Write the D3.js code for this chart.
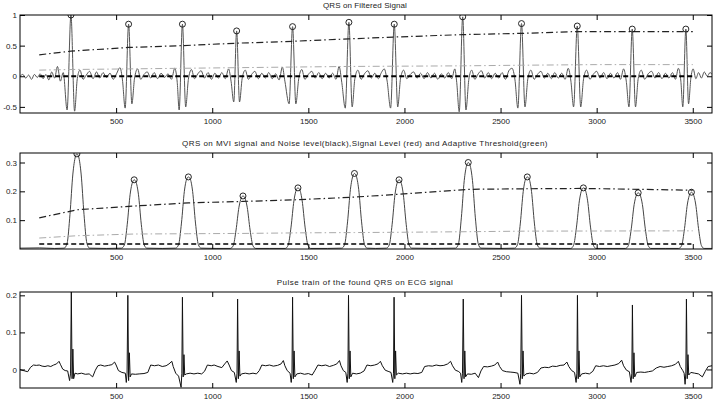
<!DOCTYPE html>
<html>
<head>
<meta charset="utf-8">
<script src="https://cdn.jsdelivr.net/npm/d3@7"></script>
<style>
	body { margin: 0; background: #fff; }
	svg { display: block; }
	.tick text { font-family: "Liberation Sans", Arial, sans-serif; font-size: 8px; fill: #222; }
	.title { font-family: "Liberation Sans", Arial, sans-serif; font-size: 8px; fill: #222; }
</style>
</head>
<body>
<div id="chart"></div>
<script>
// x range shared by the three panels (samples)
var xDomain = [0, 3600];
var xTicks = [500, 1000, 1500, 2000, 2500, 3000, 3500];

// ---- panel 1: band pass filtered signal ----
var filtSig = [
	[0,0],[15,0.03],[30,-0.03],[45,0.02],[60,-0.05],[75,0.03],[90,-0.02],[105,0.04],[120,-0.04],[135,0.03],
	[150,-0.06],[165,0.07],[180,-0.03],[195,0.16],[210,-0.08],[225,0.06],[245,-0.55],[265,1.0],[284,-0.57],[298,-0.04],
	[312,0.1],[328,-0.05],[345,0.02],[362,0.08],[380,-0.04],[398,0.07],[415,-0.03],[432,0.06],[450,-0.02],[468,0.05],
	[485,-0.05],[502,0.04],[520,0.14],[533,-0.06],[547,-0.52],[565,0.85],[582,-0.45],[596,-0.03],[612,0.12],[628,-0.05],
	[645,0.03],[662,0.07],[680,-0.03],[698,0.06],[716,-0.04],[734,0.05],[752,-0.02],[770,0.04],[788,-0.05],[805,0.13],
	[818,-0.1],[828,-0.55],[845,0.85],[862,-0.5],[876,-0.05],[892,0.11],[908,-0.04],[925,0.04],[942,0.09],[960,-0.03],
	[978,0.06],[996,-0.05],[1014,0.05],[1032,-0.03],[1050,0.06],[1068,-0.04],[1085,0.12],[1098,-0.08],[1112,-0.42],[1127,0.74],
	[1142,-0.42],[1156,-0.03],[1172,0.1],[1188,-0.05],[1205,0.03],[1222,0.08],[1240,-0.04],[1258,0.05],[1276,-0.03],[1294,0.06],
	[1312,-0.04],[1330,0.04],[1348,-0.06],[1365,0.15],[1378,-0.08],[1400,-0.45],[1418,0.81],[1435,-0.45],[1450,-0.04],[1466,0.11],
	[1482,-0.05],[1500,0.03],[1518,0.08],[1536,-0.03],[1554,0.06],[1572,-0.04],[1590,0.05],[1608,-0.03],[1626,0.05],[1644,-0.05],
	[1660,0.16],[1674,-0.1],[1692,-0.52],[1711,0.88],[1728,-0.5],[1742,-0.04],[1758,0.1],[1775,-0.05],[1792,0.04],[1810,0.09],
	[1828,-0.03],[1846,0.05],[1864,-0.04],[1880,0.06],[1895,0.12],[1910,-0.08],[1928,-0.52],[1947,0.85],[1965,-0.5],[1980,-0.03],
	[1996,0.1],[2012,-0.04],[2030,0.03],[2048,0.07],[2066,-0.03],[2084,0.05],[2102,-0.04],[2120,0.06],[2138,-0.03],[2156,0.05],
	[2174,-0.05],[2192,0.04],[2210,-0.03],[2228,0.06],[2246,-0.04],[2262,0.12],[2272,-0.1],[2285,-0.58],[2303,0.97],[2320,-0.55],
	[2335,-0.05],[2350,0.1],[2366,-0.05],[2384,0.04],[2400,0.09],[2418,-0.03],[2436,0.06],[2454,-0.04],[2472,0.05],[2490,-0.03],
	[2508,0.06],[2525,-0.05],[2545,0.1],[2560,0.13],[2575,-0.06],[2590,-0.52],[2609,0.86],[2627,-0.5],[2642,-0.04],[2658,0.1],
	[2675,-0.05],[2692,0.03],[2710,0.08],[2728,-0.03],[2746,0.05],[2764,-0.04],[2782,0.06],[2800,-0.03],[2818,0.05],[2836,-0.05],
	[2852,0.13],[2866,-0.08],[2880,-0.5],[2899,0.82],[2917,-0.5],[2932,-0.04],[2948,0.1],[2965,-0.05],[2982,0.03],[3000,0.08],
	[3018,-0.03],[3036,0.06],[3054,-0.04],[3072,0.05],[3090,-0.03],[3108,0.06],[3124,-0.05],[3140,0.12],[3154,-0.08],[3168,-0.5],
	[3185,0.77],[3202,-0.5],[3216,-0.04],[3232,0.1],[3250,-0.05],[3268,0.04],[3286,0.08],[3304,-0.03],[3322,0.06],[3340,-0.04],
	[3358,0.05],[3376,-0.03],[3394,0.06],[3410,-0.05],[3425,0.13],[3438,-0.08],[3448,-0.5],[3464,0.77],[3478,-0.45],[3490,-0.03],
	[3502,0.12],[3516,-0.04],[3530,0.06],[3545,-0.03],[3560,0.07],[3575,0],[3590,0.06],[3600,0.03]
];
var filtPeaksX = [265, 565, 845, 1127, 1418, 1711, 1947, 2303, 2609, 2899, 3185, 3464];
var filtPeaksY = [1.0, 0.85, 0.85, 0.74, 0.81, 0.88, 0.85, 0.97, 0.86, 0.82, 0.77, 0.77];
var filtThrSig = [[100,0.35],[265,0.41],[565,0.47],[845,0.5],[1127,0.54],[1418,0.57],[1711,0.61],[1947,0.64],[2303,0.68],[2609,0.7],[2899,0.73],[3185,0.73],[3500,0.73]];
var filtThrLow = [[100,0.1],[265,0.11],[565,0.12],[845,0.13],[1127,0.14],[1418,0.15],[1711,0.16],[2303,0.17],[2609,0.18],[3000,0.19],[3500,0.19]];
var filtNoise = [[100,0],[3500,0]];

// ---- panel 2: moving window integration ----
var mviSig = [
	[0,0.003],[100,0.004],[180,0.002],
	[230,0.003],[245,0.02],[260,0.12],[275,0.26],[288,0.32],[296,0.33],[305,0.32],[318,0.26],[333,0.12],[348,0.02],[362,0.003],
	[450,0.002],
	[528,0.003],[543,0.014],[558,0.086],[573,0.19],[586,0.233],[594,0.24],[603,0.233],[616,0.19],[631,0.086],[646,0.014],[660,0.003],
	[740,0.002],
	[810,0.003],[825,0.015],[840,0.09],[855,0.2],[868,0.244],[876,0.25],[885,0.244],[898,0.2],[913,0.09],[928,0.015],[942,0.003],
	[1020,0.002],
	[1094,0.002],[1109,0.011],[1124,0.066],[1139,0.145],[1152,0.178],[1160,0.184],[1169,0.178],[1182,0.145],[1197,0.066],[1212,0.011],[1226,0.002],
	[1300,0.002],
	[1380,0.002],[1395,0.013],[1410,0.076],[1425,0.167],[1438,0.206],[1446,0.212],[1455,0.206],[1468,0.167],[1483,0.076],[1498,0.013],[1512,0.002],
	[1600,0.002],
	[1674,0.003],[1689,0.016],[1704,0.094],[1719,0.207],[1732,0.254],[1740,0.262],[1749,0.254],[1762,0.207],[1777,0.094],[1792,0.016],[1806,0.003],
	[1850,0.002],
	[1906,0.003],[1921,0.014],[1936,0.086],[1951,0.19],[1964,0.233],[1972,0.24],[1981,0.233],[1994,0.19],[2009,0.086],[2024,0.014],[2038,0.003],
	[2150,0.002],
	[2266,0.003],[2281,0.018],[2296,0.108],[2311,0.237],[2324,0.291],[2332,0.30],[2341,0.291],[2354,0.237],[2369,0.108],[2384,0.018],[2398,0.003],
	[2500,0.002],
	[2573,0.003],[2588,0.015],[2603,0.09],[2618,0.2],[2631,0.244],[2639,0.25],[2648,0.244],[2661,0.2],[2676,0.09],[2691,0.015],[2705,0.003],
	[2800,0.002],
	[2865,0.002],[2880,0.013],[2895,0.076],[2910,0.167],[2923,0.206],[2931,0.212],[2940,0.206],[2953,0.167],[2968,0.076],[2983,0.013],[2997,0.002],
	[3080,0.002],
	[3150,0.002],[3165,0.012],[3180,0.07],[3195,0.154],[3208,0.189],[3216,0.195],[3225,0.189],[3238,0.154],[3253,0.07],[3268,0.012],[3282,0.002],
	[3360,0.002],
	[3427,0.002],[3442,0.012],[3457,0.071],[3472,0.156],[3485,0.191],[3493,0.197],[3502,0.191],[3515,0.156],[3530,0.071],[3545,0.012],[3559,0.002],
	[3600,0.002]
];
var mviPeaksX = [296, 594, 876, 1160, 1446, 1740, 1972, 2332, 2639, 2931, 3216, 3493];
var mviPeaksY = [0.33, 0.24, 0.25, 0.184, 0.212, 0.262, 0.24, 0.30, 0.25, 0.212, 0.195, 0.197];
var mviThrSig = [[100,0.108],[296,0.136],[594,0.149],[876,0.16],[1160,0.165],[1446,0.171],[1740,0.18],[1972,0.19],[2332,0.207],[2639,0.209],[2931,0.21],[3216,0.207],[3500,0.204]];
var mviThrLow = [[100,0.038],[296,0.046],[594,0.052],[876,0.053],[1160,0.054],[1446,0.056],[1740,0.057],[1972,0.058],[2332,0.06],[2639,0.062],[3500,0.063]];
var mviNoise = [[100,0.017],[3493,0.017]];

// ---- panel 3: raw ecg ----
var ecgSig = [
	[0,0],[10,-0.002],[25,-0.004],[40,-0.006],[55,0.006],[70,0.012],[85,0.011],[100,0.012],[115,0.009],[130,0.008],
	[145,0.01],[160,0.008],[175,0.012],[190,0.015],[203,0.022],[210,0.014],[222,0.001],[235,-0.003],[248,-0.004],[258,-0.03],
	[263,-0.01],[267,0.21],[271,-0.025],[275,0.055],[279,-0.025],[286,-0.01],[300,-0.012],[320,-0.01],[340,-0.013],[360,-0.012],
	[378,-0.02],[392,-0.002],[405,0.01],[420,0.012],[440,0.009],[460,0.011],[478,0.013],[492,0.02],[500,0.012],[512,-0.003],
	[530,-0.008],[548,-0.01],[553,-0.035],[557,-0.01],[561,0.2],[565,-0.03],[569,0.045],[573,-0.02],[580,-0.012],[600,-0.013],
	[620,-0.012],[645,-0.011],[665,-0.008],[680,0.012],[700,0.01],[720,0.012],[740,0.008],[760,0.01],[775,0.015],[790,0.022],
	[797,0.008],[810,-0.01],[825,-0.018],[838,-0.048],[842,-0.01],[845,0.195],[849,-0.02],[853,0.04],[857,-0.015],[865,-0.012],
	[885,-0.01],[905,-0.012],[925,-0.01],[945,-0.012],[960,-0.005],[975,0.012],[995,0.01],[1010,0.012],[1030,0.008],[1050,0.005],
	[1065,0.015],[1078,0.023],[1088,0.012],[1100,-0.003],[1115,-0.008],[1125,-0.035],[1129,-0.01],[1132,0.19],[1136,-0.025],[1140,0.05],
	[1144,-0.018],[1152,-0.012],[1172,-0.01],[1192,-0.012],[1212,-0.01],[1230,-0.012],[1245,-0.003],[1258,0.012],[1278,0.01],[1298,0.012],
	[1318,0.009],[1340,0.011],[1358,0.015],[1370,0.024],[1378,0.01],[1390,-0.003],[1405,-0.01],[1411,-0.035],[1415,-0.01],[1418,0.195],
	[1422,-0.025],[1426,0.05],[1430,-0.02],[1440,-0.012],[1460,-0.01],[1480,-0.013],[1500,-0.011],[1520,-0.015],[1535,-0.002],[1550,0.012],
	[1570,0.01],[1590,0.012],[1610,0.008],[1630,0.011],[1648,0.015],[1662,0.024],[1670,0.01],[1682,-0.003],[1695,-0.008],[1702,-0.035],
	[1706,-0.01],[1709,0.2],[1713,-0.025],[1717,0.05],[1721,-0.02],[1730,-0.01],[1750,-0.012],[1770,-0.01],[1790,-0.004],[1805,0.012],
	[1825,0.01],[1845,0.012],[1862,0.015],[1875,0.022],[1885,0.01],[1900,-0.002],[1915,-0.005],[1930,-0.008],[1939,-0.035],[1943,-0.01],
	[1946,0.195],[1950,-0.025],[1954,0.05],[1958,-0.015],[1968,-0.01],[1990,-0.012],[2010,-0.01],[2030,-0.012],[2050,-0.01],[2070,-0.011],
	[2090,-0.008],[2105,0.008],[2125,0.01],[2145,0.009],[2165,0.012],[2185,0.01],[2205,0.011],[2225,0.015],[2240,0.022],[2250,0.01],
	[2265,-0.002],[2280,-0.005],[2292,-0.01],[2298,-0.035],[2302,-0.01],[2306,0.19],[2310,-0.025],[2314,0.05],[2318,-0.02],[2328,-0.012],
	[2348,-0.013],[2368,-0.01],[2385,-0.022],[2398,-0.004],[2412,0.008],[2432,0.007],[2452,0.009],[2470,0.012],[2485,0.02],[2495,0.008],
	[2510,-0.003],[2530,-0.006],[2550,-0.007],[2570,-0.008],[2590,-0.01],[2601,-0.04],[2605,-0.01],[2609,0.2],[2613,-0.025],[2617,0.05],
	[2621,-0.018],[2632,-0.012],[2652,-0.01],[2672,-0.012],[2692,-0.008],[2710,0.004],[2730,0.006],[2750,0.005],[2770,0.009],[2790,0.008],
	[2810,0.011],[2830,0.012],[2845,0.02],[2855,0.008],[2870,-0.003],[2885,-0.008],[2893,-0.035],[2897,-0.01],[2900,0.2],[2904,-0.025],
	[2908,0.05],[2912,-0.02],[2922,-0.012],[2942,-0.01],[2962,-0.012],[2980,-0.005],[2995,0.01],[3015,0.008],[3035,0.01],[3055,0.008],
	[3075,0.01],[3095,0.012],[3115,0.016],[3130,0.025],[3140,0.01],[3155,-0.002],[3170,-0.006],[3179,-0.035],[3183,-0.01],[3186,0.174],
	[3190,-0.025],[3194,0.045],[3198,-0.02],[3208,-0.008],[3230,-0.007],[3250,-0.008],[3270,-0.006],[3290,-0.004],[3310,0.004],[3330,0.008],
	[3350,0.006],[3370,0.008],[3390,0.01],[3410,0.014],[3425,0.022],[3435,0.008],[3448,-0.003],[3455,-0.01],[3460,-0.04],[3464,-0.01],
	[3467,0.19],[3471,-0.025],[3475,0.04],[3479,-0.015],[3490,-0.008],[3510,-0.01],[3530,-0.012],[3550,-0.02],[3565,-0.005],[3580,0.008],
	[3600,0.01]
];

var titles = [
	"QRS on Filtered Signal",
	"QRS on MVI signal and Noise level(black),Signal Level (red) and Adaptive Threshold(green)",
	"Pulse train of the found QRS on ECG signal"
];

var W = 718, H = 412;
var left = 20, right = 712;

var svg = d3.select("#chart").append("svg")
	.attr("width", W)
	.attr("height", H);

var x = d3.scaleLinear().domain(xDomain).range([left, right]);

function addPanel(top, bottom, yDom, yTicks, title, spacing) {
	var y = d3.scaleLinear().domain(yDom).range([bottom, top]);
	var g = svg.append("g");

	g.append("text")
		.attr("class", "title")
		.attr("x", 365)
		.attr("y", top - 7)
		.attr("text-anchor", "middle")
		.attr("letter-spacing", spacing)
		.text(title);

	var clip = "clip" + Math.round(top);
	g.append("clipPath").attr("id", clip)
		.append("rect")
		.attr("x", left).attr("y", top)
		.attr("width", right - left).attr("height", bottom - top);

	var plot = g.append("g").attr("clip-path", "url(#" + clip + ")");

	g.append("g")
		.attr("transform", "translate(0," + bottom + ")")
		.call(d3.axisBottom(x).tickValues(xTicks).tickSize(-5).tickSizeOuter(0).tickPadding(5).tickFormat(String));
	g.append("g")
		.attr("transform", "translate(0," + top + ")")
		.call(d3.axisTop(x).tickValues(xTicks).tickSize(-5).tickSizeOuter(0).tickFormat(""));
	g.append("g")
		.attr("transform", "translate(" + left + ",0)")
		.call(d3.axisLeft(y).tickValues(yTicks).tickSize(-5).tickSizeOuter(0).tickPadding(3).tickFormat(String));
	g.append("g")
		.attr("transform", "translate(" + right + ",0)")
		.call(d3.axisRight(y).tickValues(yTicks).tickSize(-5).tickSizeOuter(0).tickFormat(""));

	g.selectAll(".domain").remove();
	g.selectAll(".tick line").attr("stroke", "#000");

	g.append("rect")
		.attr("x", left).attr("y", top)
		.attr("width", right - left).attr("height", bottom - top)
		.attr("fill", "none")
		.attr("stroke", "#000")
		.attr("stroke-width", 1);

	return { y: y, plot: plot };
}

function drawLine(p, data, color, width, dash, curve) {
	var line = d3.line()
		.x((d) => x(d[0]))
		.y((d) => p.y(d[1]))
		.curve(curve || d3.curveLinear);
	p.plot.append("path")
		.datum(data)
		.attr("d", line)
		.attr("fill", "none")
		.attr("stroke", color)
		.attr("stroke-width", width)
		.attr("stroke-dasharray", dash || null);
}

function drawPeaks(p, xs, ys) {
	p.plot.selectAll(null)
		.data(xs)
		.enter()
		.append("circle")
		.attr("cx", (d) => x(d))
		.attr("cy", (d, i) => p.y(ys[i]))
		.attr("r", 3)
		.attr("fill", "none")
		.attr("stroke", "#111")
		.attr("stroke-width", 0.9);
}

var dashDot = "7,3,1.5,3";

// panel 1
var p1 = addPanel(15, 113, [-0.6, 1], [-0.5, 0, 0.5, 1], titles[0], 0.1);
drawLine(p1, filtSig, "#555", 1, null, d3.curveMonotoneX);
drawLine(p1, filtThrLow, "#aaa", 1, dashDot);
drawLine(p1, filtThrSig, "#222", 1.2, dashDot);
drawLine(p1, filtNoise, "#000", 2, "5,3");
drawPeaks(p1, filtPeaksX, filtPeaksY);

// panel 2
var p2 = addPanel(153, 249, [0, 0.333], [0.1, 0.2, 0.3], titles[1], 0.45);
drawLine(p2, mviSig, "#444", 1, null, d3.curveMonotoneX);
drawLine(p2, mviThrLow, "#aaa", 1, dashDot);
drawLine(p2, mviThrSig, "#222", 1.2, dashDot);
drawLine(p2, mviNoise, "#000", 1.5, "5,3");
drawPeaks(p2, mviPeaksX, mviPeaksY);

// panel 3
var p3 = addPanel(292, 388, [-0.05, 0.209], [0, 0.1, 0.2], titles[2], 0.5);
drawLine(p3, ecgSig, "#111", 1);
</script>
</body>
</html>
